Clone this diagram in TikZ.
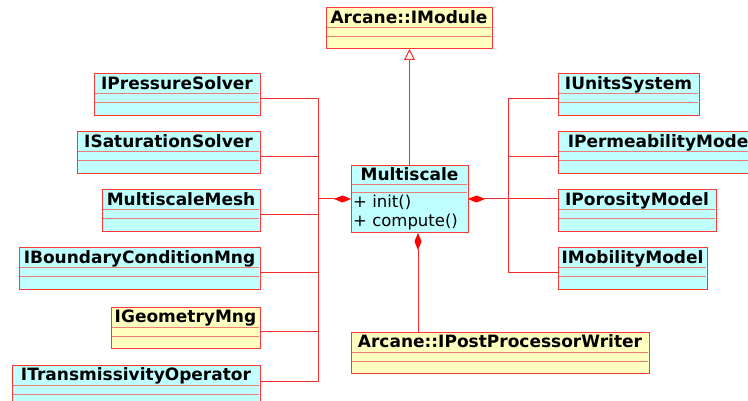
\documentclass[tikz,border=0pt]{standalone}
\usepackage{fontspec}
\setmainfont{DejaVu Sans}
\usetikzlibrary{arrows.meta,calc}
\definecolor{bord}{RGB}{255,55,55}
\definecolor{sepc}{RGB}{235,125,115}
\definecolor{cyanf}{RGB}{192,255,255}
\definecolor{yelf}{RGB}{255,255,192}
\definecolor{connc}{RGB}{245,45,45}
\tikzset{
  classbox/.style={draw=bord, line width=1pt, inner sep=0pt, outer sep=0pt, rectangle},
  sepline/.style={draw=sepc, line width=1pt},
  titletext/.style={anchor=base, inner sep=0pt, font=\bfseries\fontsize{17}{20}\selectfont},
  optext/.style={anchor=base west, inner sep=0pt, font=\fontsize{16.5}{19}\selectfont},
  conn/.style={draw=connc, line width=1pt},
  comp/.style={conn, -{Diamond[length=17pt,width=7pt,fill=red,color=red]}},
  compr/.style={conn, {Diamond[length=17pt,width=7pt,fill=red,color=red]}-},
  inh/.style={conn, -{Triangle[open,length=11pt,width=11pt,fill=white]}}
}
\newcommand\umlclass[7]{%
  \node[classbox, fill=#6, minimum width={(#4-#2)*1pt}, minimum height={(#5-#3)*1pt}, anchor=north west] (#1) at (#2,#3) {};
  \draw[sepline] ({#2+0.6},{#3+20}) -- ({#4-0.6},{#3+20}) ({#2+0.6},{#3+29}) -- ({#4-0.6},{#3+29});
  \node[titletext] (#1-t) at ({(#2+#4)/2},{#3+15.5}) {#7};
}
\begin{document}
\begin{tikzpicture}[x=1pt,y=-1pt]
\useasboundingbox (0,0) rectangle (748,401);
\clip (0,0) rectangle (748,401);
\fill[white] (0,0) rectangle (748,401);
% top and bottom classes
\umlclass{im}{326}{8}{492}{49}{yelf}{Arcane::IModule}
\umlclass{pp}{351}{332}{649}{373}{yelf}{Arcane::IPostProcessorWriter}
% Multiscale
\node[classbox, fill=cyanf, minimum width=117pt, minimum height=67pt, anchor=north west] (ms) at (351,166) {};
\draw[sepline] (351.6,185) -- (467.4,185) (351.6,193) -- (467.4,193);
\node[titletext] (ms-t) at (409.5,181) {Multiscale};
\node[optext] (ms-o1) at (353,207.5) {+ init()};
\node[optext] (ms-o2) at (353,226.5) {+ compute()};
% left classes
\umlclass{ps}{94}{74}{260}{116}{cyanf}{IPressureSolver}
\umlclass{ss}{77}{132}{260}{174}{cyanf}{ISaturationSolver}
\umlclass{mm}{102}{190}{260}{232}{cyanf}{MultiscaleMesh}
\umlclass{bc}{19}{248}{260}{290}{cyanf}{IBoundaryConditionMng}
\umlclass{gm}{111}{307}{260}{348}{yelf}{IGeometryMng}
\umlclass{to}{12}{365}{260}{407}{cyanf}{ITransmissivityOperator}
% right classes
\umlclass{us}{558}{74}{699}{116}{cyanf}{IUnitsSystem}
\umlclass{pm}{558}{132}{764}{174}{cyanf}{IPermeabilityModel}
\umlclass{po}{558}{190}{716}{232}{cyanf}{IPorosityModel}
\umlclass{mo}{558}{248}{707}{290}{cyanf}{IMobilityModel}
% bus points
\coordinate (busL) at (318,199);
\coordinate (busR) at (508,199);
\coordinate (msb) at ($(ms.south)+(8.5,0)$);
% left connectors
\draw[conn] ($(ps.east)+(0,4)$) -| (busL);
\draw[conn] ($(ss.east)+(0,4)$) -| (busL);
\draw[conn] ($(mm.east)+(0,4)$) -| (busL);
\draw[conn] ($(bc.east)+(0,4)$) -| (busL);
\draw[conn] ($(gm.east)+(0,3.5)$) -| (busL);
\draw[conn] ($(to.east)+(0,-5)$) -| (busL);
\draw[comp] (busL) -- (ms.west |- busL);
% right connectors
\draw[conn] ($(us.west)+(0,4)$) -| (busR);
\draw[conn] ($(pm.west)+(0,4)$) -| (busR);
\draw[conn] ($(mo.west)+(0,4)$) -| (busR);
\draw[compr] (ms.east |- busR) -- (po.west |- busR);
% bottom
\draw[compr] (msb) -- (msb |- pp.north);
% inheritance
\draw[inh] (ms.north) -- (ms.north |- im.south);
\end{tikzpicture}
\end{document}
